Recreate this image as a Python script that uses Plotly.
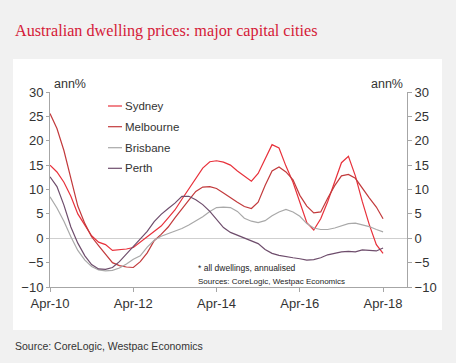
import pandas as pd
import plotly.graph_objects as go

# ---- data (bi-monthly readings, Apr-10 .. Apr-18, annual % change) ----
dates = pd.date_range("2010-04-01", periods=49, freq="2MS")

sydney = [15.0, 13.6, 11.5, 8.6, 5.0, 2.7, 0.5, -0.8, -1.3, -2.5, -2.4, -2.2, -1.9,
          -0.8, 0.4, 1.4, 2.5, 4.2, 5.8, 8.0, 10.2, 12.3, 14.4, 15.7, 15.9, 15.6,
          15.0, 13.8, 12.7, 11.7, 13.3, 16.3, 19.2, 18.5, 14.8, 11.5, 7.2, 3.2,
          1.7, 4.0, 7.5, 11.5, 15.5, 16.8, 12.8, 7.5, 2.8, -1.3, -3.1]
melbourne = [25.6, 22.5, 18.0, 12.5, 6.6, 3.0, 0.3, -1.5, -3.3, -5.0, -5.6, -5.9, -6.0,
             -4.8, -3.0, -0.5, 0.8, 2.3, 4.2, 5.9, 7.8, 9.6, 10.5, 10.6, 10.2, 9.3,
             8.3, 7.4, 6.5, 6.1, 7.4, 10.8, 13.8, 14.6, 13.6, 12.0, 8.8, 6.6,
             5.2, 5.4, 8.2, 10.8, 12.8, 13.1, 12.3, 10.2, 8.3, 6.4, 4.0]
brisbane = [8.5, 6.2, 3.5, 0.3, -2.5, -4.5, -5.8, -6.5, -6.7, -6.6, -6.1, -5.3, -4.3,
            -3.6, -1.8, -0.4, 0.4, 0.9, 1.4, 2.0, 2.7, 3.5, 4.4, 5.5, 6.3, 6.4,
            6.3, 5.5, 4.1, 3.5, 3.2, 3.6, 4.6, 5.4, 5.9, 5.4, 4.5, 3.0,
            2.1, 1.8, 1.8, 2.1, 2.6, 3.0, 3.1, 2.8, 2.4, 1.8, 1.3]
perth = [12.6, 10.6, 6.8, 2.3, -1.0, -3.6, -5.4, -6.3, -6.4, -6.0, -4.8, -3.2, -1.8,
         -0.2, 1.4, 3.4, 4.9, 6.1, 7.2, 8.6, 8.6, 7.9, 6.9, 5.5, 3.8, 2.2,
         1.2, 0.6, 0.0, -0.6, -1.1, -2.3, -3.1, -3.5, -3.8, -4.0, -4.2, -4.5,
         -4.4, -4.0, -3.4, -3.1, -2.8, -2.7, -2.8, -2.4, -2.5, -2.6, -2.0]

series_names = ["Sydney", "Melbourne", "Brisbane", "Perth"]
series_values = [sydney, melbourne, brisbane, perth]
colors = ["#e8313b", "#c23a3c", "#a9a9a9", "#6e4d6c"]

tick_dates = ["2010-04-01", "2012-04-01", "2014-04-01", "2016-04-01", "2018-04-01"]
tick_labels = ["Apr-10", "Apr-12", "Apr-14", "Apr-16", "Apr-18"]
y_ticks = [-10, -5, 0, 5, 10, 15, 20, 25, 30]

# ---- layout geometry (pixels) ----
W, H = 456, 363
L, R, T, B = 50, 407, 92, 287


def px(x):
    return (x - L) / (R - L)


def py(y):
    return (B - y) / (B - T)


FONT = "Liberation Sans, Arial, sans-serif"
fig = go.Figure()
for name, vals, col in zip(series_names, series_values, colors):
    fig.add_trace(go.Scatter(x=dates, y=vals, name=name, mode="lines",
                             line=dict(color=col, width=1.2), showlegend=False))
# invisible trace to activate the right axis
fig.add_trace(go.Scatter(x=dates, y=sydney, yaxis="y2", mode="lines",
                         line=dict(color="rgba(0,0,0,0)", width=0),
                         showlegend=False, hoverinfo="skip"))

axis_col = "#a6a6a6"
fig.update_layout(
    width=W, height=H,
    margin=dict(l=L, r=W - R, t=T, b=H - B, pad=0),
    paper_bgcolor="#f1f1f1", plot_bgcolor="white",
    font=dict(family=FONT, size=13, color="#333333"),
    xaxis=dict(type="date", range=["2010-04-01", "2018-10-28"],
               tickvals=tick_dates, ticktext=tick_labels,
               showgrid=False, zeroline=False, showline=True, linecolor=axis_col,
               linewidth=1, ticks="outside", ticklen=4, tickcolor=axis_col,
               tickfont=dict(size=13, color="#333333")),
    yaxis=dict(range=[-10, 30], tickvals=y_ticks, showgrid=False,
               zeroline=True, zerolinecolor="#cfcfcf", zerolinewidth=1,
               showline=True, linecolor=axis_col, linewidth=1,
               ticks="outside", ticklen=3, tickcolor=axis_col,
               tickfont=dict(size=13, color="#333333")),
    yaxis2=dict(range=[-10, 30], tickvals=y_ticks, overlaying="y", side="right",
                showgrid=False, zeroline=False, showline=True, linecolor=axis_col,
                linewidth=1, ticks="outside", ticklen=4, tickcolor=axis_col,
                tickfont=dict(size=13, color="#333333")),
)

shapes = [dict(type="rect", xref="paper", yref="paper", layer="below",
               x0=px(13), x1=px(442), y0=py(330), y1=py(59),
               fillcolor="white", line=dict(width=0))]
annotations = [
    dict(text="Australian dwelling prices: major capital cities", x=px(13), y=py(31),
         xanchor="left", yanchor="middle",
         font=dict(family="Liberation Serif, Times New Roman, serif", size=16.2, color="#d51a38")),
    dict(text="Source: CoreLogic, Westpac Economics", x=px(13), y=py(346),
         xanchor="left", yanchor="middle", font=dict(size=10.5, color="#333333")),
    dict(text="ann%", x=px(52), y=py(84), xanchor="left", yanchor="middle",
         font=dict(size=12.5, color="#333333")),
    dict(text="ann%", x=px(405), y=py(84), xanchor="right", yanchor="middle",
         font=dict(size=12.5, color="#333333")),
    dict(text="* all dwellings, annualised", x=px(196), y=py(268), xanchor="left",
         yanchor="middle", font=dict(size=8.5, color="#222222")),
    dict(text="Sources: CoreLogic, Westpac Economics", x=px(196), y=py(281), xanchor="left",
         yanchor="middle", font=dict(size=8, color="#222222")),
]
legend_y = [106, 126.7, 147.7, 168.3]
for name, col, ly in zip(series_names, colors, legend_y):
    shapes.append(dict(type="line", xref="paper", yref="paper", x0=px(108), x1=px(122),
                       y0=py(ly), y1=py(ly), line=dict(color=col, width=1.2)))
    annotations.append(dict(text=name, x=px(122.5), y=py(ly), xanchor="left", yanchor="middle",
                            font=dict(size=11.5, color="#333333")))
for a in annotations:
    a.update(xref="paper", yref="paper", showarrow=False)
fig.update_layout(shapes=shapes, annotations=annotations)

fig.write_html("out.html", config={"displayModeBar": False},
               post_script="document.body.style.margin='0';document.body.style.overflow='hidden';")
